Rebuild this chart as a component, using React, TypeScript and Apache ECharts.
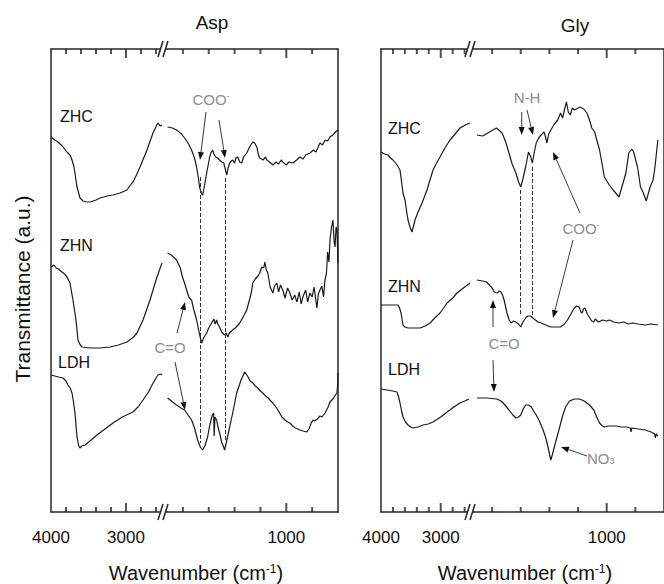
import React, { useEffect, useRef } from "react";
import * as echarts from "echarts";

// ---------- data (wavenumber cm-1, transmittance a.u.) ----------
const aspZhcHigh = [[4000,375],[3950,372],[3907,370],[3850,366],[3787,360],[3747,357],[3720,352],[3693,345],[3653,325],[3613,314],[3573,311],[3520,310],[3480,310],[3400,312],[3347,314],[3250,316],[3173,317],[3080,319],[2987,322],[2950,326],[2920,329],[2907,330],[2860,337],[2813,345],[2720,362],[2640,379],[2590,387],[2573,389],[2545,386],[2520,387]];
const aspZhcLow = [[1919,385],[1880,384],[1849,382],[1810,378],[1787,374],[1760,369],[1733,362],[1710,354],[1694,345],[1680,334],[1671,325],[1655,318],[1647,317],[1632,327],[1616,339],[1600,350],[1593,355],[1580,360],[1570,362],[1560,358],[1547,355],[1530,354],[1516,352],[1500,350],[1484,349],[1470,342],[1461,337],[1450,344],[1438,349],[1425,351],[1415,352],[1400,349],[1390,354],[1376,355],[1360,350],[1345,349],[1330,355],[1306,359],[1280,366],[1259,370],[1245,369],[1228,365],[1215,357],[1205,354],[1180,352],[1160,355],[1151,352],[1130,350],[1104,347],[1080,350],[1060,348],[1040,352],[1027,350],[1000,347],[980,350],[949,349],[920,352],[895,355],[870,353],[850,357],[817,359],[790,362],[770,360],[740,369],[720,367],[700,372],[680,371],[662,375],[640,377],[620,380],[600,382]];
const aspZhnHigh = [[4000,245],[3960,247],[3930,244],[3900,243],[3853,240],[3820,238],[3787,235],[3747,229],[3707,212],[3667,192],[3640,172],[3610,167],[3587,165],[3480,164],[3350,164],[3213,165],[3100,167],[2987,170],[2900,175],[2853,179],[2773,192],[2680,212],[2587,235],[2520,249]];
const aspZhnLow = [[1919,259],[1890,257],[1849,252],[1820,244],[1803,235],[1780,226],[1764,219],[1750,214],[1733,212],[1715,202],[1694,192],[1675,180],[1655,169],[1640,174],[1616,179],[1600,184],[1578,189],[1560,193],[1550,188],[1539,192],[1530,188],[1516,185],[1500,180],[1477,177],[1465,179],[1453,175],[1440,179],[1415,182],[1395,184],[1380,186],[1360,189],[1330,196],[1306,202],[1285,212],[1270,220],[1259,229],[1240,233],[1220,236],[1205,239],[1190,245],[1175,244],[1166,250],[1155,242],[1143,239],[1125,225],[1104,219],[1090,226],[1073,229],[1060,220],[1045,227],[1027,222],[1010,214],[990,224],[972,219],[955,212],[935,217],[918,210],[900,220],[885,208],[872,215],[850,222],[835,210],[817,219],[800,215],[785,225],[763,204],[752,218],[740,222],[725,226],[712,215],[701,232],[690,238],[680,260],[670,250],[662,272],[650,285],[639,292],[630,270],[623,265],[615,285],[608,282],[600,249]];
const aspLdhHigh = [[4000,137],[3950,136],[3900,135],[3840,134],[3800,131],[3773,127],[3745,124],[3720,119],[3700,110],[3680,99],[3665,85],[3653,75],[3630,66],[3613,64],[3590,66],[3547,67],[3480,71],[3387,77],[3280,83],[3173,89],[3050,95],[2907,100],[2840,105],[2773,112],[2700,120],[2653,127],[2600,134],[2573,137],[2540,138],[2520,137]];
const aspLdhLow = [[1919,114],[1880,110],[1849,107],[1815,104],[1787,102],[1760,97],[1733,92],[1710,84],[1686,72],[1665,65],[1647,62],[1630,66],[1609,75],[1590,88],[1572,97],[1562,99],[1558,76],[1552,95],[1539,92],[1530,86],[1516,79],[1500,70],[1477,62],[1460,72],[1438,85],[1410,102],[1384,119],[1350,132],[1322,140],[1300,136],[1280,131],[1259,129],[1240,126],[1220,124],[1200,121],[1182,119],[1160,116],[1140,114],[1120,111],[1104,109],[1080,105],[1060,101],[1034,95],[1010,92],[990,90],[972,89],[950,86],[930,84],[910,83],[895,82],[870,81],[841,80],[825,83],[810,88],[794,92],[780,91],[760,93],[740,96],[724,95],[700,99],[680,104],[662,110],[640,113],[620,117],[608,119],[602,128],[600,139]];

const glyZhcHigh = [[4000,360],[3940,358],[3883,357],[3840,354],[3799,352],[3732,347],[3682,342],[3655,330],[3632,319],[3598,312],[3570,300],[3548,292],[3510,284],[3481,280],[3455,286],[3431,292],[3380,300],[3313,309],[3230,322],[3180,332],[3129,342],[3070,349],[3012,355],[2930,364],[2844,372],[2760,378],[2677,384],[2590,387],[2509,389]];
const glyZhcLow = [[1906,377],[1866,376],[1818,380],[1770,384],[1730,379],[1705,370],[1682,359],[1660,348],[1634,339],[1615,330],[1600,325],[1585,333],[1566,345],[1546,360],[1530,355],[1519,349],[1505,360],[1492,369],[1475,374],[1458,377],[1437,380],[1427,375],[1417,369],[1405,378],[1390,382],[1365,388],[1342,392],[1322,399],[1308,394],[1295,402],[1281,410],[1268,400],[1254,397],[1240,404],[1226,402],[1186,405],[1160,403],[1138,399],[1120,392],[1104,384],[1084,380],[1050,362],[1016,335],[982,327],[955,322],[914,315],[880,332],[866,339],[846,359],[825,363],[812,360],[785,345],[764,325],[744,319],[724,311],[697,325],[676,332],[663,345],[643,372]];
const glyZhnHigh = [[4000,207],[3850,207],[3715,207],[3690,204],[3665,199],[3632,187],[3600,185],[3548,184],[3450,184],[3347,184],[3260,186],[3179,189],[3100,194],[3012,199],[2950,204],[2894,209],[2800,214],[2727,219],[2620,224],[2509,229]];
const glyZhnLow = [[1906,232],[1866,231],[1840,230],[1818,227],[1800,224],[1784,220],[1764,219],[1750,221],[1737,220],[1725,216],[1716,212],[1696,199],[1680,192],[1668,189],[1650,191],[1634,190],[1615,188],[1600,185],[1585,190],[1566,194],[1550,196],[1532,196],[1515,194],[1498,192],[1480,190],[1458,189],[1425,187],[1390,185],[1350,185],[1322,185],[1295,188],[1274,192],[1250,198],[1226,204],[1210,206],[1192,205],[1180,200],[1172,199],[1162,203],[1152,204],[1135,198],[1118,194],[1105,191],[1090,190],[1080,193],[1056,190],[1030,192],[1000,191],[981,192],[950,190],[914,189],[880,190],[850,188],[818,189],[780,188],[731,187],[690,188],[643,187]];
const glyLdhHigh = [[4000,123],[3900,122],[3800,121],[3732,120],[3705,115],[3682,109],[3655,101],[3632,95],[3590,90],[3548,87],[3500,85],[3464,84],[3380,85],[3297,87],[3210,88],[3129,90],[3000,95],[2894,100],[2780,105],[2677,109],[2600,111],[2526,113]];
const glyLdhLow = [[1906,114],[1838,114],[1770,113],[1750,112],[1730,110],[1710,107],[1682,102],[1655,97],[1634,94],[1615,95],[1600,97],[1583,103],[1566,107],[1545,107],[1526,105],[1510,101],[1492,97],[1470,91],[1444,82],[1425,74],[1410,65],[1398,57],[1390,52],[1380,57],[1362,67],[1345,76],[1328,85],[1310,95],[1287,105],[1260,111],[1226,113],[1190,113],[1158,111],[1120,107],[1090,102],[1070,95],[1050,89],[1030,86],[1016,85],[990,86],[960,86],[934,86],[900,85],[860,85],[835,84],[830,80],[825,84],[780,83],[731,82],[690,80],[665,78],[660,74],[655,78],[643,76]];

// axis ranges / ticks
const highRange = [2500, 4000];
const lowRange = [600, 1950];
const highMinorTicks = [3800, 3600, 3400, 3200, 2800, 2600];
const highMajorTicks = [3000];
const lowMinorTicks = [1800, 1600, 1400, 1200, 800];
const lowMajorTicks = [1000];
const highTickLabels = [4000, 3000];
const lowTickLabels = [1000];
const yRange = [0, 463];

// dashed guide lines [wavenumber, from, to]
const aspDashed = [[1668, 335, 69], [1471, 334, 72]];
const glyDashed = [[1603, 322, 197], [1519, 345, 197]];

const FONT = '"Liberation Sans", Arial, Helvetica, sans-serif';
const AXIS_COLOR = "#262626";
const LINE_COLOR = "#1a1a1a";
const NOTE_COLOR = "#8c8c8c";

const grids = [
  { left: 51, top: 49, width: 112.5, height: 463 },
  { left: 163.5, top: 49, width: 174.5, height: 463 },
  { left: 381, top: 49, width: 89.6, height: 463 },
  { left: 470.6, top: 49, width: 198.4, height: 463 },
];
const gridSeg = ["high", "low", "high", "low"];

function xAxesFor(g: number) {
  const seg = gridSeg[g];
  const [min, max] = seg === "high" ? highRange : lowRange;
  const labels = seg === "high" ? highTickLabels : lowTickLabels;
  const lineStyle = { color: AXIS_COLOR, width: 1.5 };
  const base = { type: "value", gridIndex: g, min, max, inverse: true, splitLine: { show: false } };
  return [
    { ...base, position: "bottom", axisLine: { show: true, onZero: false, lineStyle },
      axisTick: { show: false },
      axisLabel: { show: true, customValues: labels, showMinLabel: true, showMaxLabel: true, margin: 17,
        fontSize: 17, color: "#111", fontFamily: FONT, formatter: (v: number) => String(v) } },
    { ...base, position: "top", axisLine: { show: true, onZero: false, lineStyle },
      axisTick: { show: false }, axisLabel: { show: false } },
  ];
}

// tick marks as small scatter rectangles sitting on the axes (pointing inward)
function tickSeries(g: number): any[] {
  const seg = gridSeg[g];
  const minor = seg === "high" ? highMinorTicks : lowMinorTicks;
  const major = seg === "high" ? highMajorTicks : lowMajorTicks;
  const mk = (vals: number[], yv: number, len: number, dir: number) => ({
    type: "scatter", xAxisIndex: g * 2, yAxisIndex: g, clip: false, silent: true,
    symbol: "rect", symbolSize: [2, len], symbolOffset: [0, (dir * len) / 2],
    itemStyle: { color: AXIS_COLOR }, data: vals.map((w) => [w, yv]),
  });
  return [
    mk(minor, yRange[0], 5, -1), mk(major, yRange[0], 9, -1),
    mk(minor, yRange[1], 5, 1), mk(major, yRange[1], 9, 1),
  ];
}

function arrow(x1: number, y1: number, x2: number, y2: number) {
  const a = Math.atan2(y2 - y1, x2 - x1);
  const L = 8, W = 3;
  const bx = x2 - L * Math.cos(a), by = y2 - L * Math.sin(a);
  const px = -Math.sin(a) * W, py = Math.cos(a) * W;
  return [
    { type: "line", shape: { x1, y1, x2: bx, y2: by }, style: { stroke: "#3a3a3a", lineWidth: 1 } },
    { type: "polygon", shape: { points: [[x2, y2], [bx + px, by + py], [bx - px, by - py]] }, style: { fill: "#111" } },
  ];
}

function breakMark(x: number, y: number) {
  return [
    { type: "rect", shape: { x: x - 3, y: y - 1.5, width: 4.5, height: 3 }, style: { fill: "#fff" }, z: 10 },
    { type: "line", shape: { x1: x - 6, y1: y + 8, x2: x - 1, y2: y - 8 }, style: { stroke: AXIS_COLOR, lineWidth: 1.5 }, z: 11 },
    { type: "line", shape: { x1: x - 1, y1: y + 8, x2: x + 4, y2: y - 8 }, style: { stroke: AXIS_COLOR, lineWidth: 1.5 }, z: 11 },
  ];
}

function text(x: number, y: number, t: string, size: number, color: string, align = "center", rich?: any) {
  return {
    type: "text", x, y,
    style: { text: t, fontSize: size, fontFamily: FONT, fill: color, align, verticalAlign: "middle", rich },
  };
}

function staticGraphic(): any[] {
  const sup = { sup: { fontSize: 9, verticalAlign: "top", fontFamily: FONT, fill: NOTE_COLOR } };
  const supBig = { sup: { fontSize: 12, verticalAlign: "top", fontFamily: FONT, fill: "#111" } };
  const sub = { sub: { fontSize: 9, verticalAlign: "bottom", fontFamily: FONT, fill: NOTE_COLOR } };
  return [
    text(212, 22, "Asp", 19, "#111"),
    text(575, 25, "Gly", 19, "#111"),
    text(196, 573, "Wavenumber (cm{sup|-1})", 20, "#111", "center", supBig),
    text(525, 573, "Wavenumber (cm{sup|-1})", 20, "#111", "center", supBig),
    { type: "text", x: 22, y: 289, rotation: Math.PI / 2,
      style: { text: "Transmittance (a.u.)", fontSize: 21, fontFamily: FONT, fill: "#111", align: "center", verticalAlign: "middle" } },
    text(60, 116, "ZHC", 16, "#111", "left"),
    text(60, 245, "ZHN", 16, "#111", "left"),
    text(58, 362, "LDH", 16, "#111", "left"),
    text(388, 128, "ZHC", 16, "#111", "left"),
    text(388, 286, "ZHN", 16, "#111", "left"),
    text(388, 369, "LDH", 16, "#111", "left"),
    text(211, 99, "COO{sup|-}", 15, NOTE_COLOR, "center", sup),
    text(170, 347, "C=O", 15, NOTE_COLOR),
    text(527, 97, "N-H", 15, NOTE_COLOR),
    text(581, 228, "COO{sup|-}", 15, NOTE_COLOR, "center", sup),
    text(504, 343, "C=O", 15, NOTE_COLOR),
    text(587, 458, "NO{sub|3}", 15, NOTE_COLOR, "left", sub),
    ...arrow(206, 112, 200, 160),
    ...arrow(219, 120, 225, 158),
    ...arrow(177, 333, 185, 302),
    ...arrow(175, 362, 185, 410),
    ...arrow(521.7, 112, 521.7, 135),
    ...arrow(527, 110, 533, 135),
    ...arrow(580, 213, 553, 152),
    ...arrow(573, 240, 553, 318),
    ...arrow(493, 327, 493, 300),
    ...arrow(493, 360, 494, 392),
    ...arrow(587, 456, 561, 447),
    ...breakMark(164, 49), ...breakMark(164, 512),
    ...breakMark(471, 49), ...breakMark(471, 512),
  ];
}

function buildOption() {
  const xAxis: any[] = [];
  const yAxis: any[] = [];
  for (let g = 0; g < 4; g++) {
    xAxis.push(...xAxesFor(g));
    yAxis.push({
      type: "value", gridIndex: g, min: yRange[0], max: yRange[1],
      position: g % 2 === 0 ? "left" : "right",
      axisLine: { show: true, onZero: false, lineStyle: { color: AXIS_COLOR, width: 1.5 } },
      axisTick: { show: false }, axisLabel: { show: false }, splitLine: { show: false },
    });
  }
  const specs: [number, number[][]][] = [
    [0, aspZhcHigh], [1, aspZhcLow], [0, aspZhnHigh], [1, aspZhnLow], [0, aspLdhHigh], [1, aspLdhLow],
    [2, glyZhcHigh], [3, glyZhcLow], [2, glyZhnHigh], [3, glyZhnLow], [2, glyLdhHigh], [3, glyLdhLow],
  ];
  const series: any[] = [];
  for (let g = 0; g < 4; g++) series.push(...tickSeries(g));
  const dashedStyle = { type: "dashed", color: "#333", width: 1 };
  specs.forEach(([g, data], i) => {
    const s: any = {
      type: "line", xAxisIndex: g * 2, yAxisIndex: g, data, showSymbol: false, symbol: "none",
      lineStyle: { color: LINE_COLOR, width: 1.2 }, silent: true,
    };
    if (i === 1 || i === 7) {
      const d = i === 1 ? aspDashed : glyDashed;
      s.markLine = {
        silent: true, symbol: ["none", "none"], lineStyle: dashedStyle, label: { show: false },
        data: d.map(([w, a, b]) => [{ coord: [w, a] }, { coord: [w, b] }]),
      };
    }
    series.push(s);
  });

  return {
    animation: false,
    backgroundColor: "#fff",
    textStyle: { fontFamily: FONT },
    grid: grids,
    xAxis, yAxis, series, graphic: staticGraphic(),
  };
}

export default function App() {
  const ref = useRef<HTMLDivElement>(null);
  useEffect(() => {
    document.body.style.margin = "0";
    const chart = echarts.init(ref.current!, null, { renderer: "svg" });
    chart.setOption(buildOption() as any);
    return () => chart.dispose();
  }, []);
  return <div ref={ref} style={{ width: 664, height: 584 }} />;
}
